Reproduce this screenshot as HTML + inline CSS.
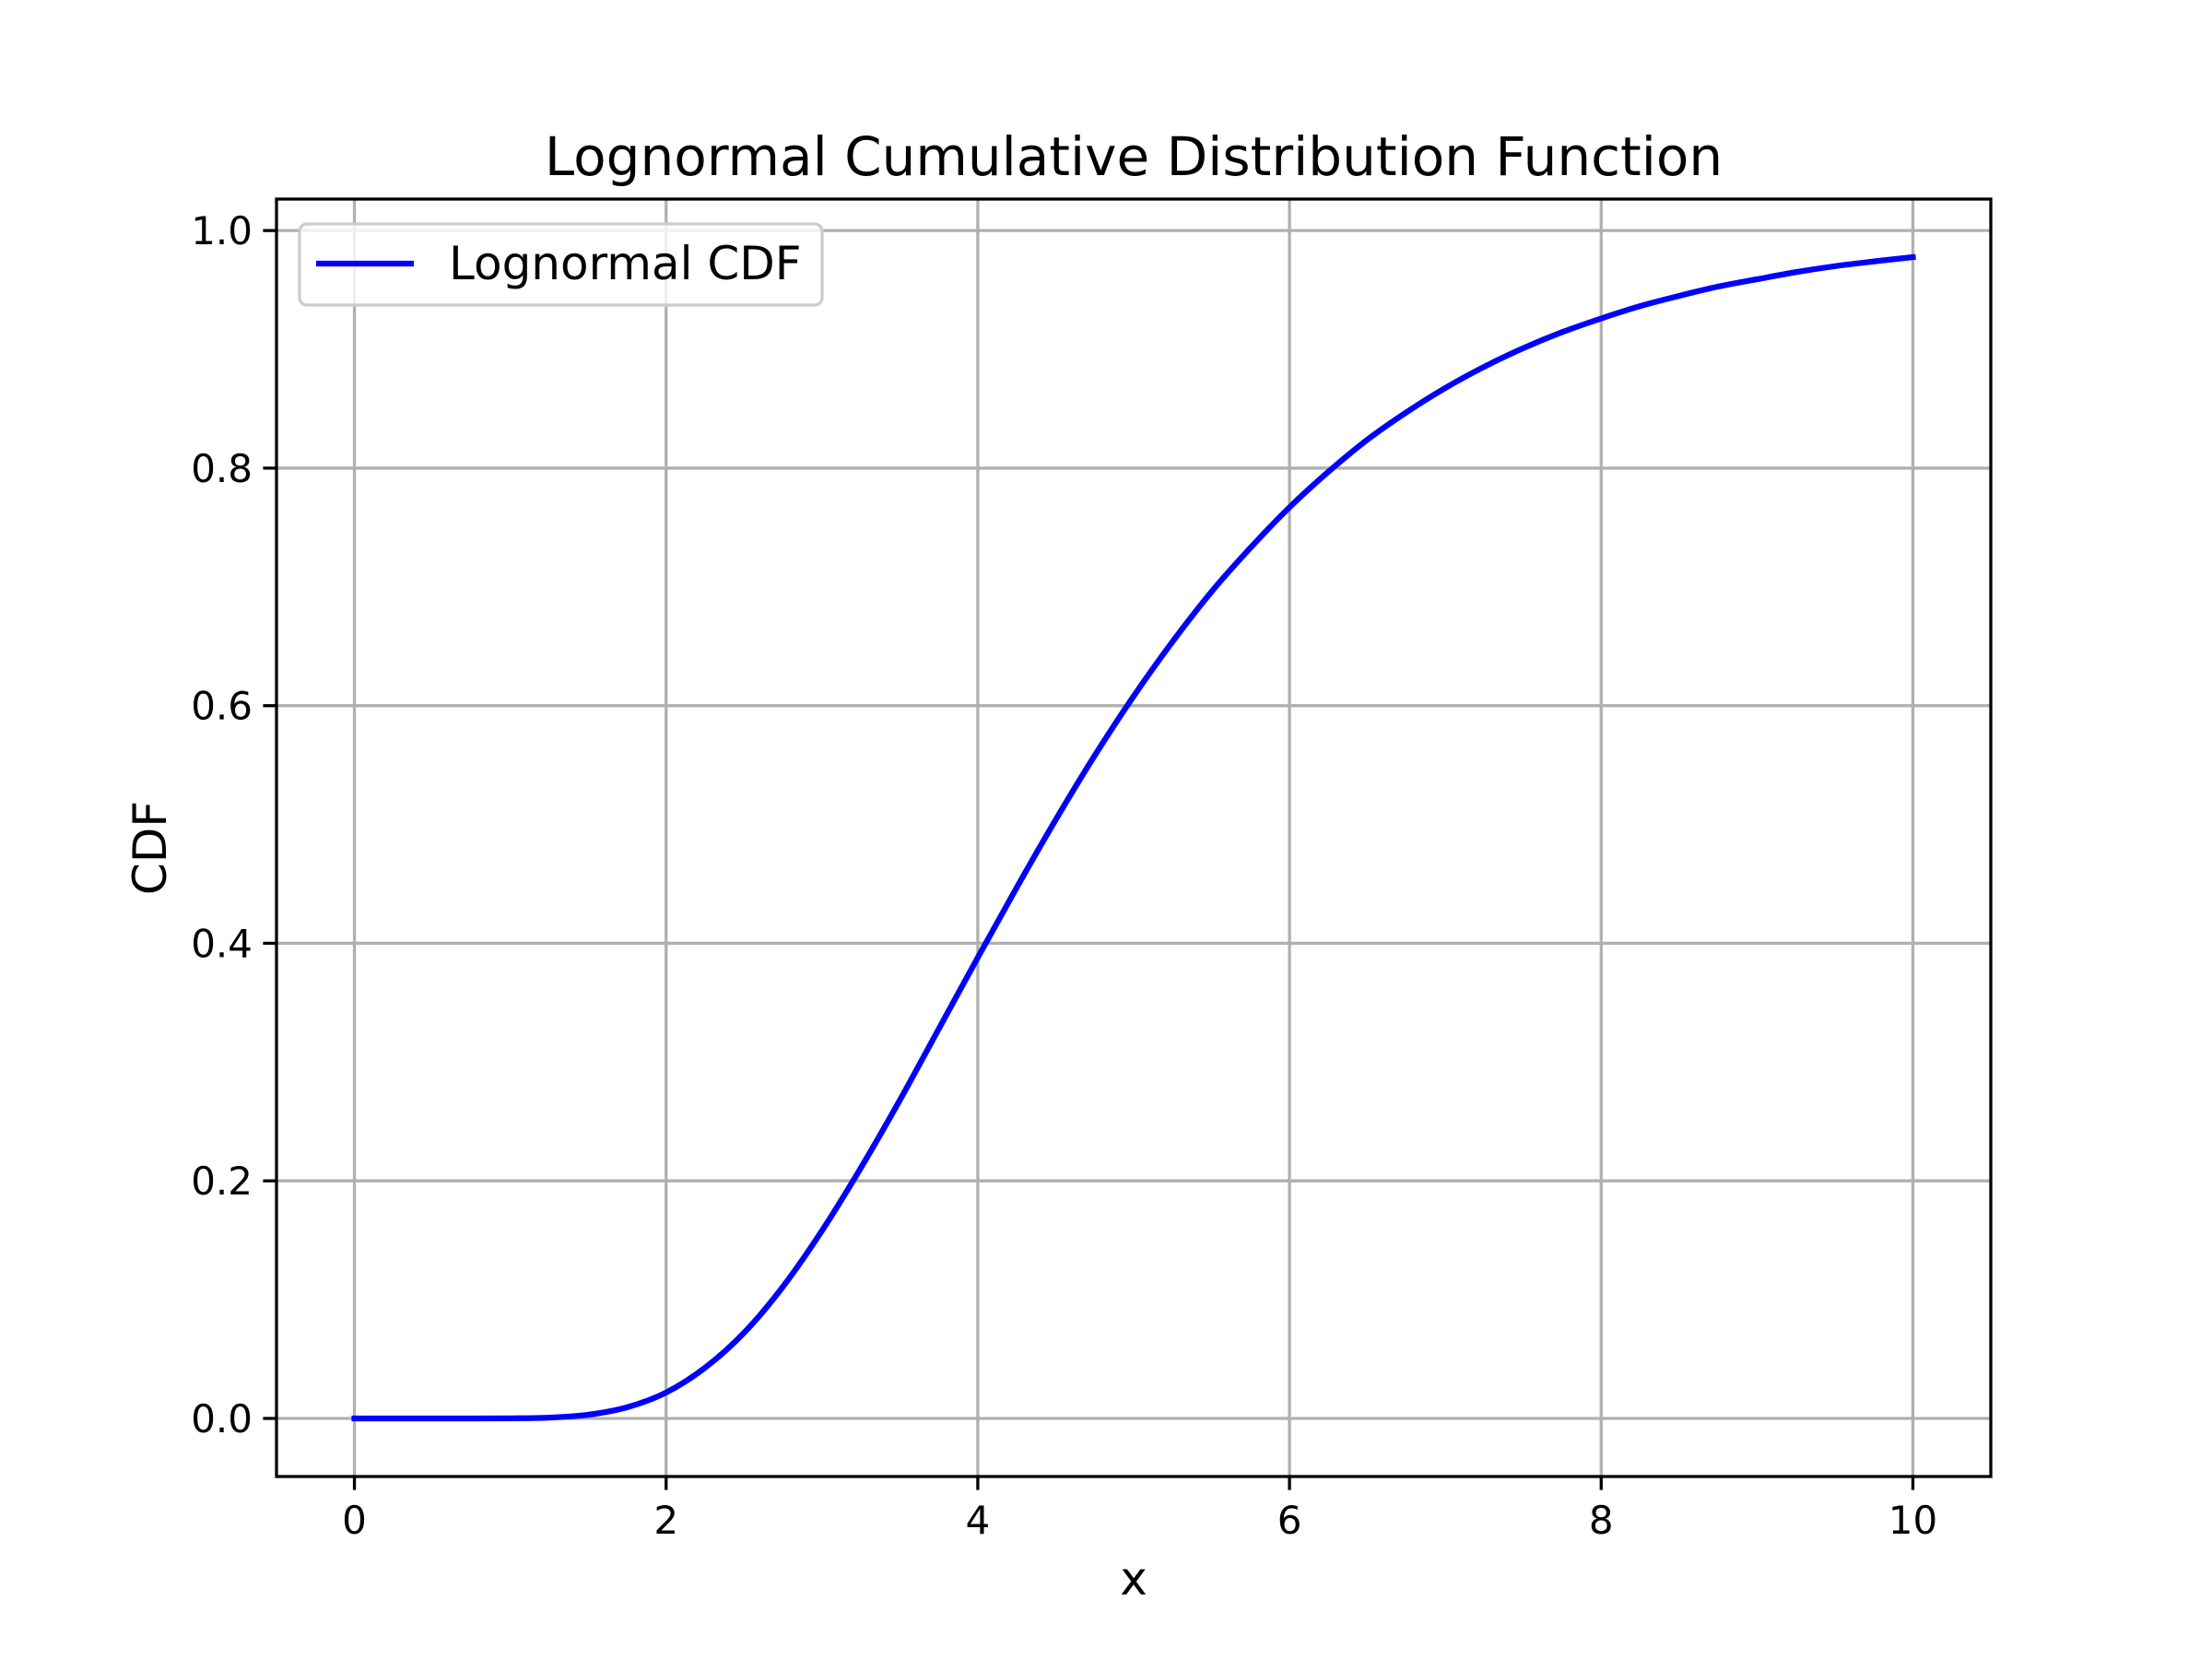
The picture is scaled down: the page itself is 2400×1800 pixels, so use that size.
<!DOCTYPE html>
<html><head><meta charset="utf-8"><style>
html,body{margin:0;padding:0;background:#fff;}
svg{display:block;font-family:"DejaVu Sans","Liberation Sans",sans-serif;}
</style></head><body>
<svg id="chart" width="2400" height="1800" viewBox="0 0 2400 1800">
<rect width="2400" height="1800" fill="#fff"/>
<g id="grid"></g>
<g id="curve"></g>
<rect x="300" y="216" width="1860" height="1386" fill="none" stroke="#000" stroke-width="3.3"/>
<g id="ticks"></g>
<text x="1230" y="190" font-size="58" text-anchor="middle">Lognormal Cumulative Distribution Function</text>
<text x="1230" y="1730" font-size="50" text-anchor="middle">x</text>
<text x="0" y="0" font-size="50" text-anchor="middle" transform="translate(180,920) rotate(-90)">CDF</text>
<g>
<rect x="325" y="243" width="567" height="88" rx="8" fill="#fff" fill-opacity="0.8" stroke="#cccccc" stroke-width="3.3"/>
<line x1="343" y1="286" x2="449" y2="286" stroke="#0000ff" stroke-width="6.25"/>
<text x="487" y="303" font-size="50">Lognormal CDF</text>
</g>
</svg>
<script>
const xs=[0,0.25,0.5,0.75,1,1.25,1.5,1.75,2,2.25,2.5,2.75,3,3.25,3.5,3.75,4,4.25,4.5,4.75,5,5.25,5.5,5.75,6,6.25,6.5,6.75,7,7.25,7.5,7.75,8,8.25,8.5,8.75,9,9.25,9.5,9.75,10];
const cdf=[0,0,0,0,0.0001,0.0007,0.0031,0.0094,0.0218,0.0427,0.0721,0.111,0.158,0.211,0.268,0.328,0.388,0.447,0.504,0.558,0.608,0.654,0.696,0.733,0.767,0.797,0.824,0.847,0.8675,0.8854,0.901,0.9145,0.926,0.9364,0.945,0.9528,0.959,0.965,0.970,0.974,0.9776];
const xTicks=[0,2,4,6,8,10];
const yTicks=[0,0.2,0.4,0.6,0.8,1.0];
const yTickLabels=["0.0","0.2","0.4","0.6","0.8","1.0"];
const NS="http://www.w3.org/2000/svg";
const X0=300,X1=2160,Y0=1602,Y1=216,xmin=-0.5,xmax=10.5,ymin=-0.0489,ymax=1.0265;
function sx(v){return X0+(v-xmin)/(xmax-xmin)*(X1-X0);}
function sy(v){return Y0-(v-ymin)/(ymax-ymin)*(Y0-Y1);}
function mk(t,a,p){const e=document.createElementNS(NS,t);for(const k in a)e.setAttribute(k,a[k]);p.appendChild(e);return e;}
const grid=document.getElementById('grid'),ticks=document.getElementById('ticks'),curve=document.getElementById('curve');
xTicks.forEach(v=>{
 const g=mk('line',{x1:sx(v),x2:sx(v),y1:Y1,y2:Y0,stroke:'#b0b0b0','stroke-width':3.3},grid);
 
 
 const t=mk('line',{x1:sx(v),x2:sx(v),y1:Y0,y2:Y0+14.6,stroke:'#000','stroke-width':3.3},ticks);
 
 
 const l=mk('text',{x:sx(v),y:Y0+62,'font-size':42,'text-anchor':'middle'},ticks);
 l.textContent=String(v);
 
 
});
yTicks.forEach((v,i)=>{
 const g=mk('line',{x1:X0,x2:X1,y1:sy(v),y2:sy(v),stroke:'#b0b0b0','stroke-width':3.3},grid);
 
 
 const t=mk('line',{x1:X0-14.6,x2:X0,y1:sy(v),y2:sy(v),stroke:'#000','stroke-width':3.3},ticks);
 
 
 const l=mk('text',{x:X0-26,y:sy(v)+15,'font-size':42,'text-anchor':'end'},ticks);
 l.textContent=yTickLabels[i];
 
 
});
const P=xs.map((x,i)=>[sx(x),sy(cdf[i])]);
let d='M'+P[0][0]+','+P[0][1];
for(let i=0;i<P.length-1;i++){
 const p0=P[Math.max(0,i-1)],p1=P[i],p2=P[i+1],p3=P[Math.min(P.length-1,i+2)];
 const c1=[p1[0]+(p2[0]-p0[0])/6,p1[1]+(p2[1]-p0[1])/6];
 const c2=[p2[0]-(p3[0]-p1[0])/6,p2[1]-(p3[1]-p1[1])/6];
 d+=' C'+c1[0]+','+c1[1]+' '+c2[0]+','+c2[1]+' '+p2[0]+','+p2[1];
}
const path=mk('path',{d:d,fill:'none',stroke:'#0000ff','stroke-width':6.25,'stroke-linecap':'square'},curve);


</script>
</body></html>
